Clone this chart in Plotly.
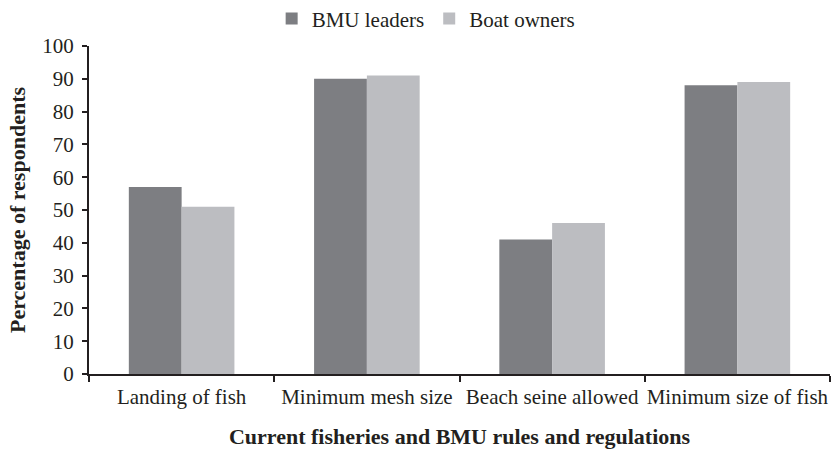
import plotly.graph_objects as go

categories = ["Landing of fish", "Minimum mesh size", "Beach seine allowed", "Minimum size of fish"]
bmu_leaders = [57, 90, 41, 88]
boat_owners = [51, 91, 46, 89]
series_names = ["BMU leaders", "Boat owners"]

FONT = "Liberation Serif"
INK = "#231f20"

fig = go.Figure()
fig.add_trace(go.Bar(x=categories, y=bmu_leaders, name=series_names[0],
                     marker=dict(color="#7d7e82", line=dict(width=0))))
fig.add_trace(go.Bar(x=categories, y=boat_owners, name=series_names[1],
                     marker=dict(color="#bcbdc1", line=dict(width=0))))

fig.update_layout(
    width=832, height=450,
    margin=dict(l=89, r=2, t=46, b=76, autoexpand=False),
    paper_bgcolor="white", plot_bgcolor="white",
    barmode="group", bargap=0.43, bargroupgap=0,
    font=dict(family=FONT, size=21, color=INK),
    legend=dict(orientation="h", x=0.455, xanchor="center", y=1.02, yanchor="bottom",
                font=dict(family=FONT, size=21, color=INK), itemwidth=30,
                bgcolor="rgba(0,0,0,0)"),
    xaxis=dict(
        showline=True, linecolor=INK, linewidth=2,
        ticks="outside", tickson="boundaries", ticklen=6, tickwidth=1.5, tickcolor=INK,
        tickangle=0, ticklabelstandoff=3,
        tickfont=dict(family=FONT, size=21, color=INK),
        title=dict(text="<b>Current fisheries and BMU rules and regulations</b>",
                   font=dict(family=FONT, size=22, color=INK), standoff=20),
        showgrid=False,
    ),
    yaxis=dict(
        range=[0, 100], dtick=10,
        showline=True, linecolor=INK, linewidth=2,
        ticks="outside", ticklen=5, tickwidth=1.5, tickcolor=INK,
        ticklabelstandoff=4,
        tickfont=dict(family=FONT, size=21, color=INK),
        title=dict(text="<b>Percentage of respondents</b>",
                   font=dict(family=FONT, size=22, color=INK), standoff=11),
        showgrid=False, zeroline=False,
    ),
)

fig.write_html("out.html")
